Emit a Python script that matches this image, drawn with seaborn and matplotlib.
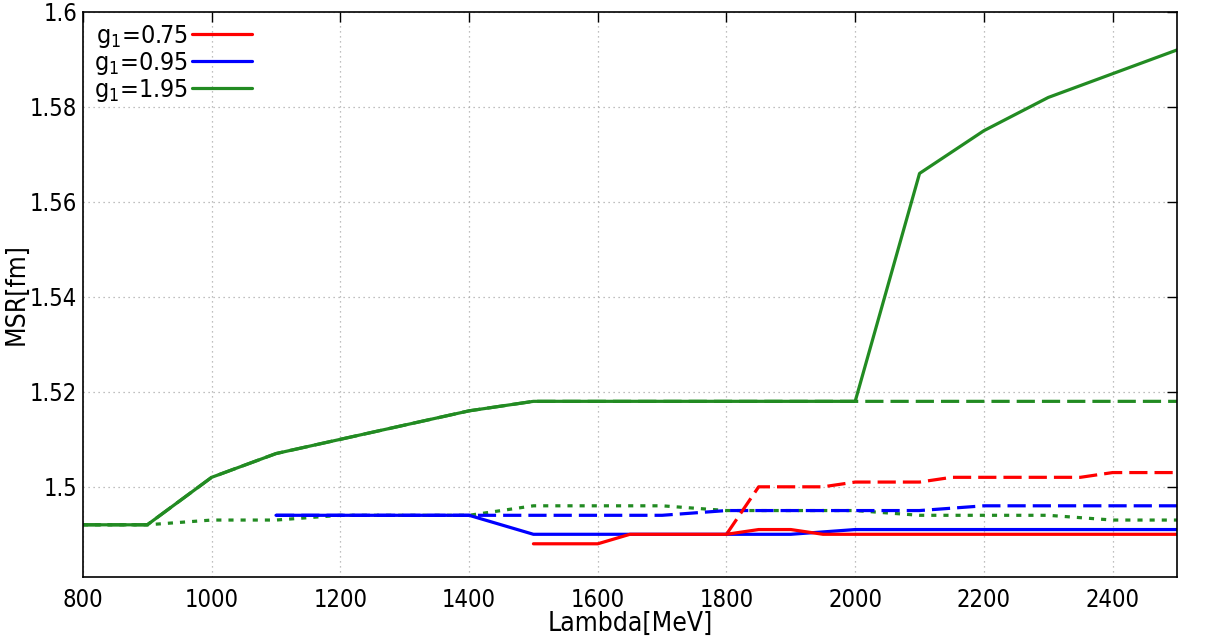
import numpy as np
import pandas as pd
import matplotlib
matplotlib.use("Agg")
import matplotlib.pyplot as plt
import seaborn as sns

# lambda cutoff [MeV] and MSR [fm] values per g1 / line style
lam_g195_solid = [800, 900, 1000, 1100, 1200, 1300, 1400, 1500, 1600, 1700, 1800, 1900, 2000, 2100, 2200, 2300, 2400, 2500]
msr_g195_solid = [1.492, 1.492, 1.502, 1.507, 1.510, 1.513, 1.516, 1.518, 1.518, 1.518, 1.518, 1.518, 1.518, 1.566, 1.575, 1.582, 1.587, 1.592]

lam_g195_dash = [800, 900, 1000, 1100, 1200, 1300, 1400, 1500, 1600, 1700, 1800, 1900, 2000, 2100, 2200, 2300, 2400, 2500]
msr_g195_dash = [1.492, 1.492, 1.502, 1.507, 1.510, 1.513, 1.516, 1.518, 1.518, 1.518, 1.518, 1.518, 1.518, 1.518, 1.518, 1.518, 1.518, 1.518]

lam_g195_dot = [800, 900, 1000, 1100, 1200, 1300, 1400, 1500, 1600, 1700, 1800, 1900, 2000, 2100, 2200, 2300, 2400, 2500]
msr_g195_dot = [1.492, 1.492, 1.493, 1.493, 1.494, 1.494, 1.494, 1.496, 1.496, 1.496, 1.495, 1.495, 1.495, 1.494, 1.494, 1.494, 1.493, 1.493]

lam_g095_solid = [1100, 1200, 1300, 1400, 1500, 1600, 1700, 1800, 1900, 2000, 2100, 2200, 2300, 2400, 2500]
msr_g095_solid = [1.494, 1.494, 1.494, 1.494, 1.490, 1.490, 1.490, 1.490, 1.490, 1.491, 1.491, 1.491, 1.491, 1.491, 1.491]

lam_g095_dash = [1100, 1200, 1300, 1400, 1500, 1600, 1700, 1800, 1900, 2000, 2100, 2200, 2300, 2400, 2500]
msr_g095_dash = [1.494, 1.494, 1.494, 1.494, 1.494, 1.494, 1.494, 1.495, 1.495, 1.495, 1.495, 1.496, 1.496, 1.496, 1.496]

lam_g075_solid = [1500, 1600, 1650, 1700, 1800, 1850, 1900, 1950, 2000, 2100, 2200, 2300, 2400, 2500]
msr_g075_solid = [1.488, 1.488, 1.490, 1.490, 1.490, 1.491, 1.491, 1.490, 1.490, 1.490, 1.490, 1.490, 1.490, 1.490]

lam_g075_dash = [1800, 1850, 1900, 1950, 2000, 2100, 2150, 2200, 2300, 2350, 2400, 2500]
msr_g075_dash = [1.490, 1.500, 1.500, 1.500, 1.501, 1.501, 1.502, 1.502, 1.502, 1.502, 1.503, 1.503]

x_ticks = [800, 1000, 1200, 1400, 1600, 1800, 2000, 2200, 2400]
y_ticks = [1.5, 1.52, 1.54, 1.56, 1.58, 1.6]
y_tick_labels = ["1.5", "1.52", "1.54", "1.56", "1.58", "1.6"]

RED, BLUE, GREEN = "#ff0000", "#0000ff", "#228b22"
DASH = (0, (5.7, 2.2))
DOT = (0, (1.6, 2.2))

sns.set_style("white")
plt.rcParams["font.family"] = ["DejaVu Sans"]
plt.rcParams["font.stretch"] = "condensed"
plt.rcParams["mathtext.fontset"] = "custom"
plt.rcParams["mathtext.rm"] = "DejaVu Sans:stretch=condensed"
plt.rcParams["text.color"] = "black"

fig = plt.figure(figsize=(12.18, 6.41), dpi=100)
ax = fig.add_axes([0.0681, 0.0998, 0.8982, 0.8815])

series = [
    (lam_g195_dot, msr_g195_dot, GREEN, DOT, None),
    (lam_g195_dash, msr_g195_dash, GREEN, DASH, None),
    (lam_g095_dash, msr_g095_dash, BLUE, DASH, None),
    (lam_g075_dash, msr_g075_dash, RED, DASH, None),
    (lam_g195_solid, msr_g195_solid, GREEN, "-", r"$\mathregular{g_1}$=1.95"),
    (lam_g095_solid, msr_g095_solid, BLUE, "-", r"$\mathregular{g_1}$=0.95"),
    (lam_g075_solid, msr_g075_solid, RED, "-", r"$\mathregular{g_1}$=0.75"),
]
handles = {}
for xs, ys, col, ls, lab in series:
    df = pd.DataFrame({"lam": xs, "msr": ys})
    sns.lineplot(data=df, x="lam", y="msr", ax=ax, color=col, linestyle=ls,
                 linewidth=2.3, label=lab if lab else "_nolegend_", legend=False)
    if lab:
        handles[lab] = ax.lines[-1]

ax.set_xlim(800, 2500)
ax.set_ylim(1.481, 1.6)
ax.set_xticks(x_ticks)
ax.set_yticks(y_ticks)
ax.set_yticklabels(y_tick_labels)
ax.grid(True, color="#aaaaaa", linestyle=(0, (1, 3)), linewidth=0.9)
ax.tick_params(direction="in", length=7, width=1, top=True, right=True,
               labelsize=17, colors="black", pad=4)
ax.tick_params(axis="x", pad=8)
for sp in ax.spines.values():
    sp.set_color("black")
    sp.set_linewidth(1.2)

ax.set_xlabel("Lambda[MeV]", fontsize=19, labelpad=-1, color="black")
ax.set_ylabel("MSR[fm]", fontsize=19, labelpad=0, color="black")

order = [r"$\mathregular{g_1}$=0.75", r"$\mathregular{g_1}$=0.95", r"$\mathregular{g_1}$=1.95"]
leg = ax.legend([handles[k] for k in order], order, loc="upper left", frameon=False,
                markerfirst=False, fontsize=18, handlelength=2.4, handletextpad=0.15,
                labelspacing=0.0, borderaxespad=0.25, borderpad=0.2)
for t in leg.get_texts():
    t.set_color("black")

fig.savefig("out.png", dpi=100)
